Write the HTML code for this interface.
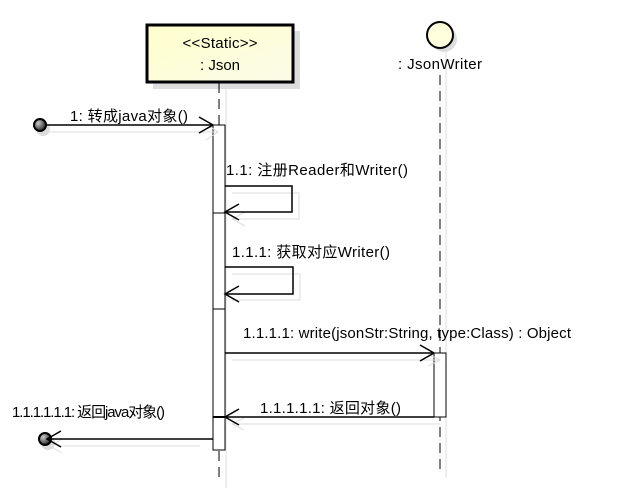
<!DOCTYPE html>
<html><head><meta charset="utf-8"><style>
body{margin:0;background:#fff}
svg text{font-family:"Liberation Sans","Noto Sans CJK SC",sans-serif;font-size:15px;fill:#000}
</style></head><body>
<svg width="617" height="494" xmlns="http://www.w3.org/2000/svg">
<defs><radialGradient id="g" cx="35%" cy="35%" r="70%"><stop offset="0" stop-color="#ccc"/><stop offset="1" stop-color="#222"/></radialGradient>
<linearGradient id="y" x1="0" y1="0" x2="1" y2="1"><stop offset="0" stop-color="#ffffcc"/><stop offset="1" stop-color="#fbfbe8"/></linearGradient></defs>
<rect x="153" y="31" width="147" height="58" fill="#ddd"/>
<line x1="226" y1="89" x2="226" y2="488" stroke="#ddd"/>
<line x1="446" y1="48" x2="446" y2="478" stroke="#ddd"/>
<circle cx="444" cy="39" r="13" fill="#ddd"/>
<rect x="147" y="25" width="146" height="57" fill="url(#y)" stroke="#000" stroke-width="3"/>
<text x="220" y="48" text-anchor="middle" textLength="75">&lt;&lt;Static&gt;&gt;</text>
<text x="220" y="70" text-anchor="middle">: Json</text>
<line x1="219" y1="83" x2="219" y2="480" stroke="#000" stroke-dasharray="10,6"/>
<circle cx="440" cy="35" r="13" fill="#ffffdd" stroke="#000" stroke-width="2"/>
<text x="398" y="69" textLength="84">: JsonWriter</text>
<line x1="440" y1="75" x2="440" y2="470" stroke="#000" stroke-dasharray="10,6"/>
<rect x="213" y="125" width="12" height="325" fill="#fff" stroke="#000"/>
<line x1="213" y1="213" x2="225" y2="213" stroke="#000"/>
<line x1="213" y1="309" x2="225" y2="309" stroke="#000"/>
<line x1="213" y1="417" x2="225" y2="417" stroke="#000" stroke-width="2"/>
<rect x="434" y="353" width="12" height="64" fill="#fff" stroke="#000"/>
<g fill="none" stroke="#ddd">
<polyline points="45,132 218,132"/><polyline points="206,124 218,132 206,140"/>
<polyline points="232,193 299,193 299,219 232,219"/><polyline points="245,212 232,219 245,226"/>
<polyline points="232,274 300,274 300,300 232,300"/>
<polyline points="232,360 440,360"/><polyline points="428,354 440,360 428,366"/>
<polyline points="440,424 232,424"/><polyline points="244,418 232,424 244,430"/>
<polyline points="60,446 200,446"/><polyline points="62,439 50,446 62,453"/>
</g>
<circle cx="43" cy="129" r="7" fill="#ddd"/>
<circle cx="40" cy="125" r="6" fill="url(#g)" stroke="#000" stroke-width="2"/>
<circle cx="48" cy="443" r="7" fill="#ddd"/>
<circle cx="45" cy="439" r="6" fill="url(#g)" stroke="#000" stroke-width="2"/>
<g fill="none" stroke="#000" stroke-width="1.5">
<line x1="46" y1="125" x2="213" y2="125"/><polyline points="199,117 213,125 199,133"/>
<polyline points="225,186 292,186 292,212 225,212"/><polyline points="239,204 225,212 239,220"/>
<polyline points="225,267 293,267 293,294 225,294"/><polyline points="239,286 225,294 239,302"/>
<line x1="225" y1="353" x2="434" y2="353"/><polyline points="420,345 434,353 420,361"/>
<line x1="434" y1="417" x2="225" y2="417"/><polyline points="239,409 225,417 239,425"/>
<line x1="213" y1="439" x2="47" y2="439"/><polyline points="61,431 47,439 61,447"/>
</g>
<text x="70" y="121" textLength="118">1: 转成java对象()</text>
<text x="226" y="175" textLength="182">1.1: 注册Reader和Writer()</text>
<text x="232" y="257" textLength="158">1.1.1: 获取对应Writer()</text>
<text x="243" y="338" textLength="328">1.1.1.1: write(jsonStr:String, type:Class) : Object</text>
<text x="260" y="413" textLength="141">1.1.1.1.1: 返回对象()</text>
<text x="12" y="417" textLength="153">1.1.1.1.1.1: 返回java对象()</text>
</svg>
</body></html>
